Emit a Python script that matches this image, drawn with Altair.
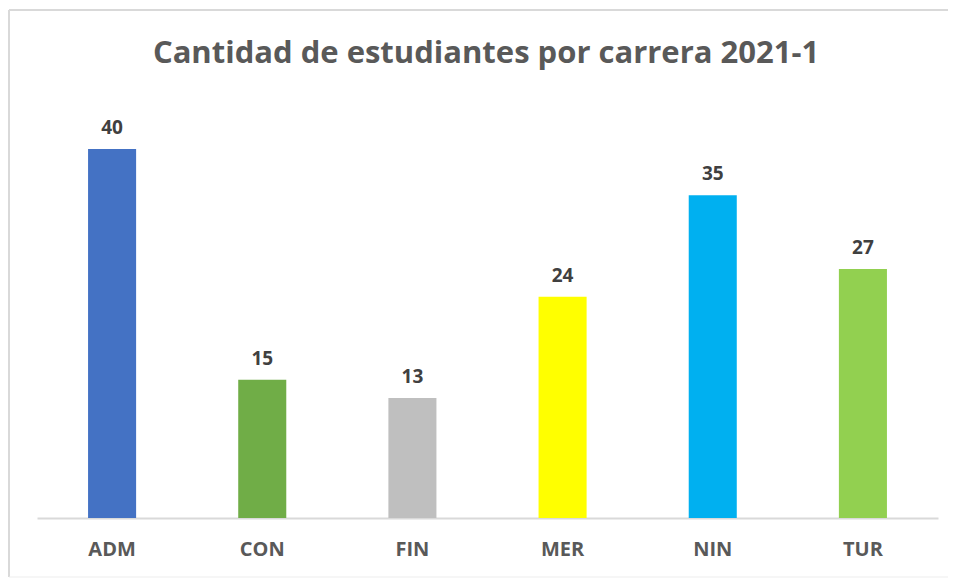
import altair as alt
import pandas as pd

titulo = "Cantidad de estudiantes por carrera 2021-1"
carreras = ["ADM", "CON", "FIN", "MER", "NIN", "TUR"]
estudiantes = [40, 15, 13, 24, 35, 27]
colores = ["#4472C4", "#70AD47", "#BFBFBF", "#FFFF00", "#00B0F0", "#92D050"]

df = pd.DataFrame({"carrera": carreras, "n": estudiantes})

FONT = "Open Sans"

x = alt.X("carrera:N", sort=carreras,
          scale=alt.Scale(paddingInner=0.68, paddingOuter=0.34),
          axis=alt.Axis(title=None, labelAngle=0, labelFont=FONT, labelFontSize=20,
                        labelFontWeight="bold", labelColor="#595959", labelPadding=21,
                        ticks=False, domainColor="#D9D9D9", domainWidth=2))
y = alt.Y("n:Q", scale=alt.Scale(domain=[0, 45]), axis=None)

bars = alt.Chart(df).mark_bar().encode(
    x=x, y=y,
    color=alt.Color("carrera:N", scale=alt.Scale(domain=carreras, range=colores), legend=None),
)

labels = alt.Chart(df).mark_text(
    font=FONT, fontSize=19, fontWeight="bold", color="#404040", baseline="alphabetic", dy=-15
).encode(x=x, y=y, text="n:Q")

one = alt.Data(values=[{"t": titulo}])
border_style = dict(color="#D9D9D9", strokeWidth=2, clip=False)
top_line = alt.Chart(one).mark_rule(**border_style).encode(
    x=alt.value(-28), x2=alt.value(915), y=alt.value(-93))
left_line = alt.Chart(one).mark_rule(**border_style).encode(
    x=alt.value(-28), y=alt.value(-93), y2=alt.value(474))
bottom_line = alt.Chart(one).mark_rule(color="#EDEDED", strokeWidth=1, clip=False).encode(
    x=alt.value(-28), x2=alt.value(915), y=alt.value(474))

title_text = alt.Chart(one).mark_text(
    font=FONT, fontSize=31, fontWeight="bold", color="#595959",
    baseline="alphabetic", align="center", clip=False
).encode(x=alt.value(449), y=alt.value(-40), text="t:N")

chart = alt.layer(top_line, left_line, bottom_line, title_text, bars, labels).properties(
    width=901, height=415,
    autosize=alt.AutoSizeParams(type="none"),
    padding={"left": 29, "top": 95, "right": 10, "bottom": 60},
).configure_view(stroke=None)

chart.save("out.html", embed_options={"renderer": "svg", "actions": False})
